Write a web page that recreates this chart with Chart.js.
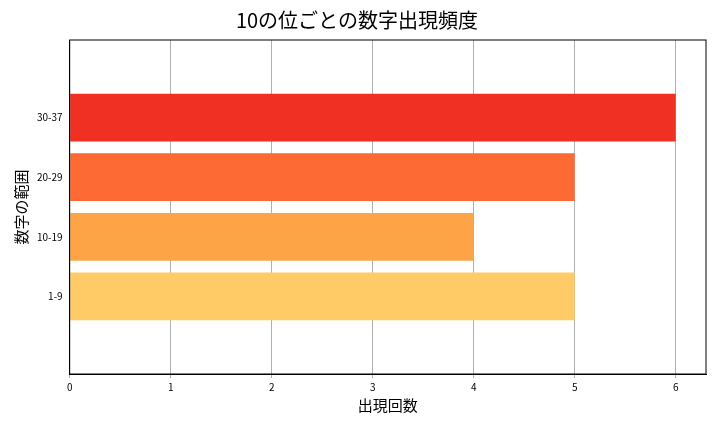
<!DOCTYPE html>
<html lang="ja">
<head>
<meta charset="UTF-8">
<script src="https://cdn.jsdelivr.net/npm/chart.js"></script>
<style>
  body { margin: 0; background: #fff; }
  #wrap { width: 720px; height: 432px; }
</style>
</head>
<body>
<div id="wrap"><canvas id="myChart"></canvas></div>
<script>
var categories = ['1-9', '10-19', '20-29', '30-37'];
var counts = [5, 4, 5, 6];
var barColors = ['#fecb67', '#fda446', '#fd6a33', '#f03023'];
var xTicks = [0, 1, 2, 3, 4, 5, 6];

var font = "'Noto Sans CJK JP', 'DejaVu Sans', sans-serif";

// black frame around plot area
var frame = {
    id: 'frame',
    afterDraw: function (chart) {
        var a = chart.chartArea, c = chart.ctx;
        c.save();
        c.strokeStyle = '#000';
        c.lineWidth = 1;
        c.strokeRect(a.left, a.top, a.right - a.left, a.bottom - a.top);
        c.restore();
    }
};

var points = counts.map(function (v, i) { return { x: v, y: i }; });

new Chart(document.getElementById('myChart'), {
    type: 'bar',
    data: {
        datasets: [{ data: points, backgroundColor: barColors, barPercentage: 0.8, categoryPercentage: 1 }]
    },
    options: {
        indexAxis: 'y',
        animation: false,
        responsive: true,
        maintainAspectRatio: false,
        layout: { padding: { left: 8, right: 14, top: 0, bottom: 14 } },
        plugins: {
            legend: { display: false },
            tooltip: { enabled: false },
            title: {
                display: true,
                text: '10の位ごとの数字出現頻度',
                color: '#000',
                font: { family: font, size: 20, weight: 'normal' },
                padding: { top: 8, bottom: 8 }
            }
        },
        scales: {
            x: {
                type: 'linear',
                min: 0,
                max: 6.3,
                afterBuildTicks: function (axis) {
                    axis.ticks = xTicks.map(function (v) { return { value: v }; });
                },
                grid: { color: '#b0b0b0', drawTicks: true, tickLength: 4 },
                border: { color: '#000' },
                ticks: { color: '#000', font: { family: font, size: 10 }, maxRotation: 0 },
                title: { display: true, text: '出現回数', color: '#000', font: { family: font, size: 15 }, padding: { top: 0 } }
            },
            y: {
                type: 'linear',
                min: -0.6,
                max: 3.6,
                afterBuildTicks: function (axis) {
                    axis.ticks = categories.map(function (c, i) { return { value: i }; });
                },
                grid: { display: false, drawTicks: true, tickLength: 4 },
                border: { color: '#000' },
                ticks: {
                    color: '#000', font: { family: font, size: 10 },
                    callback: function (v) { return categories[v]; }
                },
                title: { display: true, text: '数字の範囲', color: '#000', font: { family: font, size: 15 } }
            }
        }
    },
    plugins: [frame]
});
</script>
</body>
</html>
